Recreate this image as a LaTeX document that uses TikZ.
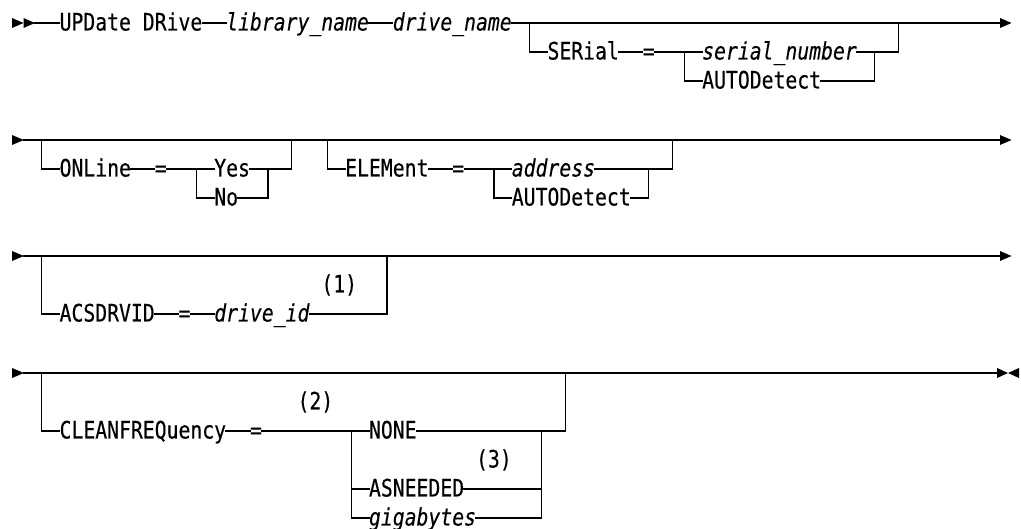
\documentclass[tikz,border=0pt]{standalone}
\usepackage{fontspec}
\newfontfamily\dmono[FakeStretch=0.823,FakeBold=0.3]{DejaVu Sans Mono}
\newcommand\rrfont{\dmono\fontsize{24pt}{27pt}\selectfont}
\begin{document}
\begin{tikzpicture}[x=1pt,y=-1pt,
  kw/.style={inner sep=0pt, outer sep=0pt, anchor=west, text height=18pt, text depth=3pt, font=\rrfont},
  var/.style={kw, font=\rrfont\itshape},
  rail/.style={line width=1.3pt, line cap=rect, line join=miter}]
\useasboundingbox (0,0) rectangle (1021,529);

% ---------------- Row 1 ----------------
\fill (12,18) -- (23.5,23) -- (12,28) -- cycle;
\fill (23.5,18) -- (35,23) -- (23.5,28) -- cycle;
\coordinate (r1s) at (35,23);
\node[kw] (upd) at (59.6,23) {UPDate DRive};
\node[var] (lib) at (226.2,23) {library\_name};
\node[var] (drv) at (392.8,23) {drive\_name};
\coordinate (r1e) at (1000,23);
\fill (1000,18) -- (1011.5,23) -- (1000,28) -- cycle;
\draw[rail] (r1s) -- (upd.west);
\draw[rail] (upd.east) -- (lib.west);
\draw[rail] (lib.east) -- (drv.west);
\draw[rail] (drv.east) -- (r1e);
\coordinate (serl) at (529.65,23);
\node[kw] (ser) at (547.5,52) {SERial};
\node[kw] (sereq) at (642.7,52) {=};
\coordinate (serc) at (684.4,52);
\node[var] (sernum) at (702.2,52) {serial\_number};
\node[kw] (serauto) at (702.2,81) {AUTODetect};
\coordinate (serj) at (874.8,52);
\coordinate (serr) at (898.6,23);
\draw[rail] (serl) |- (ser.west);
\draw[rail] (ser.east) -- (sereq.west);
\draw[rail] (sereq.east) -- (serc) -- (sernum.west);
\draw[rail] (serc) |- (serauto.west);
\draw[rail] (sernum.east) -- (serj);
\draw[rail] (serauto.east) -| (serj);
\draw[rail] (serj) -| (serr);

% ---------------- Row 2 ----------------
\fill (12,135) -- (23.9,140) -- (12,145) -- cycle;
\coordinate (r2s) at (23.9,140);
\coordinate (r2e) at (1000,140);
\fill (1000,135) -- (1011.5,140) -- (1000,145) -- cycle;
\draw[rail] (r2s) -- (r2e);
\coordinate (onll) at (41.75,140);
\node[kw] (onl) at (59.6,169) {ONLine};
\node[kw] (onleq) at (154.8,169) {=};
\coordinate (onlc) at (196.45,169);
\node[kw] (yes) at (214.3,169) {Yes};
\node[kw] (no) at (214.3,198) {No};
\coordinate (onlj) at (267.85,169);
\coordinate (onlr) at (291.7,140);
\draw[rail] (onll) |- (onl.west);
\draw[rail] (onl.east) -- (onleq.west);
\draw[rail] (onleq.east) -- (onlc) -- (yes.west);
\draw[rail] (onlc) |- (no.west);
\draw[rail] (yes.east) -- (onlj);
\draw[rail] (no.east) -| (onlj);
\draw[rail] (onlj) -| (onlr);
\coordinate (elel) at (327.4,140);
\node[kw] (ele) at (345.2,169) {ELEMent};
\node[kw] (eleeq) at (452.3,169) {=};
\coordinate (elec) at (493.95,169);
\node[var] (addr) at (511.8,169) {address};
\node[kw] (eleauto) at (511.8,198) {AUTODetect};
\coordinate (elej) at (648.6,169);
\coordinate (eler) at (672.45,140);
\draw[rail] (elel) |- (ele.west);
\draw[rail] (ele.east) -- (eleeq.west);
\draw[rail] (eleeq.east) -- (elec) -- (addr.west);
\draw[rail] (elec) |- (eleauto.west);
\draw[rail] (addr.east) -- (elej);
\draw[rail] (eleauto.east) -| (elej);
\draw[rail] (elej) -| (eler);

% ---------------- Row 3 ----------------
\fill (12,251) -- (23.9,256) -- (12,261) -- cycle;
\coordinate (r3s) at (23.9,256);
\coordinate (r3e) at (1000,256);
\fill (1000,251) -- (1011.5,256) -- (1000,261) -- cycle;
\draw[rail] (r3s) -- (r3e);
\coordinate (acsl) at (41.75,256);
\node[kw] (acs) at (59.6,314) {ACSDRVID};
\node[kw] (acseq) at (178.6,314) {=};
\node[var] (did) at (214.3,314) {drive\_id};
\node[kw] (fn1) at (321.4,285) {(1)};
\coordinate (acsr) at (386.85,256);
\draw[rail] (acsl) |- (acs.west);
\draw[rail] (acs.east) -- (acseq.west);
\draw[rail] (acseq.east) -- (did.west);
\draw[rail] (did.east) -| (acsr);

% ---------------- Row 4 ----------------
\fill (12,368) -- (23.9,373) -- (12,378) -- cycle;
\coordinate (r4s) at (23.9,373);
\coordinate (r4e) at (997,373);
\fill (997,368) -- (1008,373) -- (997,378) -- cycle;
\fill (1019,368) -- (1008,373) -- (1019,378) -- cycle;
\draw[rail] (r4s) -- (r4e);
\coordinate (cll) at (41.75,373);
\node[kw] (cl) at (59.6,431) {CLEANFREQuency};
\node[kw] (cleq) at (250,431) {=};
\node[kw] (fn2) at (297.6,402) {(2)};
\coordinate (clc) at (351.2,431);
\node[kw] (none) at (369,431) {NONE};
\node[kw] (fn3) at (476.1,460) {(3)};
\node[kw] (asn) at (369,489) {ASNEEDED};
\node[var] (gig) at (369,518) {gigabytes};
\coordinate (clj) at (541.6,431);
\coordinate (clr) at (565.4,373);
\draw[rail] (cll) |- (cl.west);
\draw[rail] (cl.east) -- (cleq.west);
\draw[rail] (cleq.east) -- (clc) -- (none.west);
\draw[rail] (clc) |- (asn.west);
\draw[rail] (clc) |- (gig.west);
\draw[rail] (none.east) -- (clj);
\draw[rail] (asn.east) -| (clj);
\draw[rail] (gig.east) -| (clj);
\draw[rail] (clj) -| (clr);
\end{tikzpicture}
\end{document}
